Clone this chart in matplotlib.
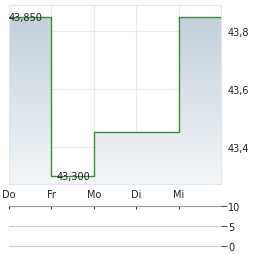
import numpy as np
import matplotlib
matplotlib.use("Agg")
import matplotlib.pyplot as plt
from matplotlib.patches import Polygon

# step chart: price per day position
days = ["Do", "Fr", "Mo", "Di", "Mi"]
xs = [0, 1, 2, 4, 5]
prices = [43.85, 43.30, 43.45, 43.85, 43.85]
yticks = [43.4, 43.6, 43.8]
vol_ticks = [0, 5, 10]

fig = plt.figure(figsize=(2.64, 2.55), dpi=100)
ax = fig.add_axes([0.034, 0.2745, 0.803, 0.702])
ylo, yhi = 43.272, 43.89
ax.set_xlim(0, 5)
ax.set_ylim(ylo, yhi)

# step path
px, py = [], []
for i in range(len(xs) - 1):
    px += [xs[i], xs[i + 1]]
    py += [prices[i], prices[i]]
px.append(xs[-1]); py.append(prices[-1])

# gradient fill under line
poly = Polygon(list(zip(px, py)) + [(5, ylo), (0, ylo)], closed=True,
               facecolor="none", edgecolor="none")
ax.add_patch(poly)
grad = np.linspace(1, 0, 256).reshape(-1, 1)
cmap = matplotlib.colors.LinearSegmentedColormap.from_list("g", ["#f3f6f8", "#c3d0da"])
im = ax.imshow(grad, extent=[0, 5, ylo, 43.85], aspect="auto", cmap=cmap,
               origin="upper", zorder=1)
im.set_clip_path(poly)

ax.plot(px, py, color="#3d8b3d", lw=1.0, zorder=3)

fs = 7
ax.set_xticks(range(5))
ax.set_xticklabels([])
ax.set_yticks(yticks)
ax.set_yticklabels([f"{v:.1f}".replace(".", ",") for v in yticks])
ax.yaxis.tick_right()
ax.tick_params(axis="y", length=0, labelsize=fs, pad=5, labelcolor="#222222")
ax.tick_params(axis="x", length=0)
ax.grid(True, color="#ebebeb", lw=0.8)
ax.set_axisbelow(True)
for s in ax.spines.values():
    s.set_color("#e6e6e6")
    s.set_linewidth(0.8)

ax.text(0.0, 43.85, "43,850", fontsize=fs, color="#222222", ha="left",
        va="center", zorder=4)
ax.text(1.12, 43.30, "43,300", fontsize=fs, color="#222222", ha="left",
        va="center", zorder=4)

for i, d in enumerate(days):
    fig.text((9 + i * 42.4) / 264, 1 - 195 / 255, d, fontsize=fs,
             color="#222222", ha="center", va="center")

# volume panel
vax = fig.add_axes([0.034, 0.031, 0.803, 0.157])
vax.set_xlim(0, 5)
vax.set_ylim(0, 10)
vax.set_yticks(vol_ticks)
vax.set_yticklabels([str(v) for v in vol_ticks])
vax.yaxis.tick_right()
vax.tick_params(axis="y", length=4, width=0.8, color="#555555", labelsize=fs,
                pad=1, labelcolor="#222222")
vax.set_xticks(range(5))
vax.set_xticklabels([])
vax.xaxis.tick_top()
vax.tick_params(axis="x", direction="in", length=2.5, width=0.8, color="#333333")
vax.grid(True, axis="y", color="#cccccc", lw=0.8)
for gl in vax.get_ygridlines():
    gl.set_clip_on(False)
for k, s in vax.spines.items():
    s.set_visible(k == "top")
vax.spines["top"].set_color("#999999")
vax.patch.set_alpha(0)

fig.savefig("out.png", dpi=100)
